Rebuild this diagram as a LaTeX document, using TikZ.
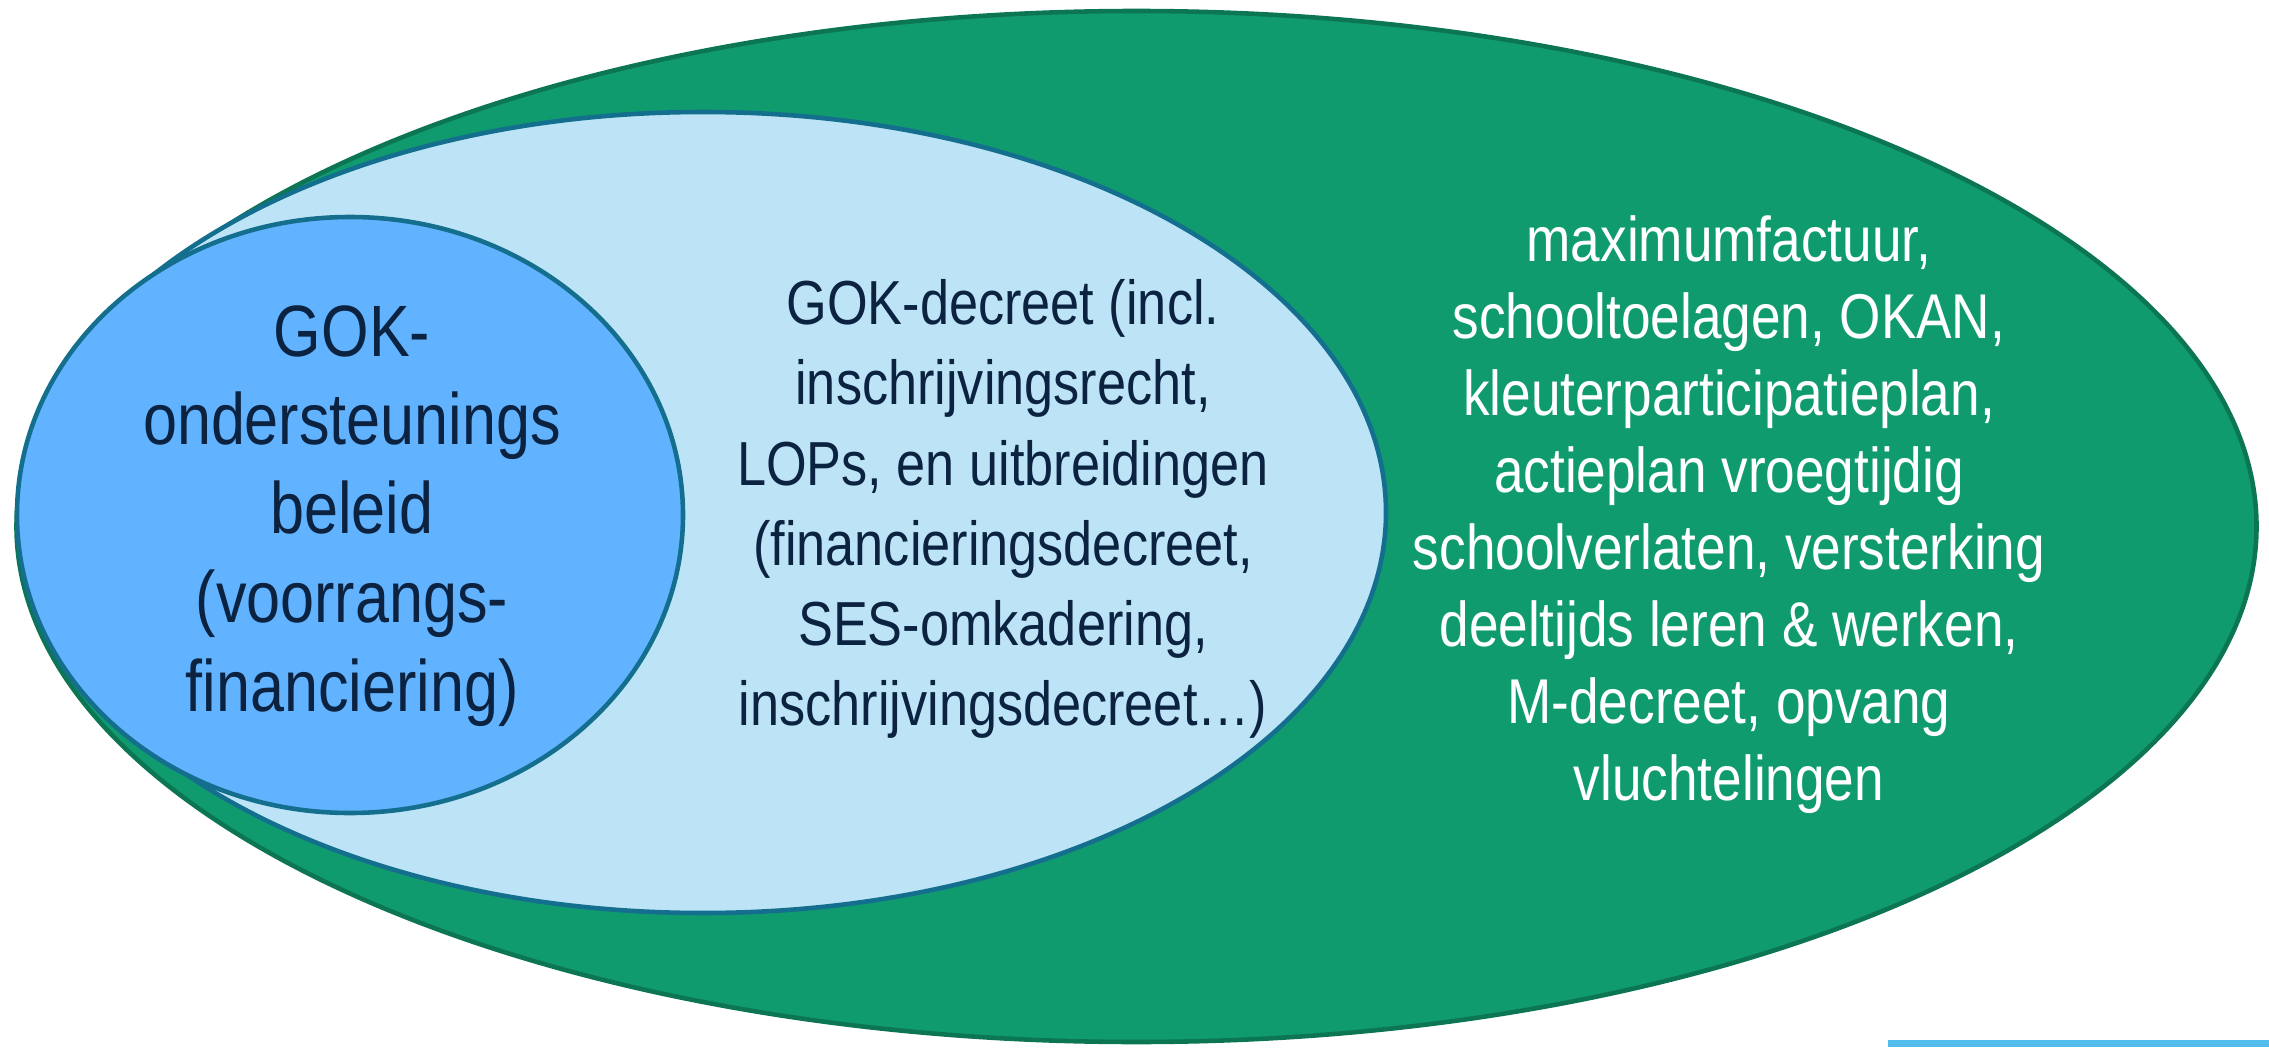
\documentclass[tikz,border=0pt]{standalone}
\usepackage{fontspec}
\setmainfont{Liberation Sans}[FakeStretch=0.84]
\usepackage{tikz}

\definecolor{gokgreen}{HTML}{109B6F}
\definecolor{gokgreenline}{HTML}{0C7553}
\definecolor{goklight}{HTML}{BCE4F6}
\definecolor{gokline}{HTML}{146E8E}
\definecolor{gokblue}{HTML}{62B3FF}
\definecolor{goknavy}{HTML}{0B2240}
\definecolor{gokbar}{HTML}{53BDEC}

\begin{document}
\begin{tikzpicture}[
	ring/.style={line width=1.3pt},
	label/.style={align=center, inner sep=0pt},
	]
	\useasboundingbox (0,0) rectangle (22.69,10.47);
	\draw[ring,fill=gokgreen,draw=gokgreenline] (11.365,5.205) ellipse (11.20 and 5.155);
	\draw[ring,fill=goklight,draw=gokline] (7.03,5.345) ellipse (6.83 and 4.005);
	\draw[ring,fill=gokblue,draw=gokline] (3.50,5.32) ellipse (3.33 and 2.98);
	\fill[gokbar] (18.88,0) rectangle (22.69,0.07);
	\node[label,text=goknavy,font=\fontsize{20.7}{25.3}\selectfont] (steun) at (3.52,5.31)
		{GOK-\\ondersteunings\\beleid\\(voorrangs-\\financiering)};
	\node[label,text=goknavy,font=\fontsize{17.7}{22.8}\selectfont] (decreet) at (10.03,5.38)
		{GOK-decreet (incl.\\inschrijvingsrecht,\\LOPs, en uitbreidingen\\(financieringsdecreet,\\SES-omkadering,\\inschrijvingsdecreet…)};
	\node[label,text=white,font=\fontsize{18.0}{21.9}\selectfont] (breed) at (17.29,5.32)
		{maximumfactuur,\\schooltoelagen, OKAN,\\kleuterparticipatieplan,\\actieplan vroegtijdig\\schoolverlaten, versterking\\deeltijds leren \& werken,\\M-decreet, opvang\\vluchtelingen};
\end{tikzpicture}
\end{document}
